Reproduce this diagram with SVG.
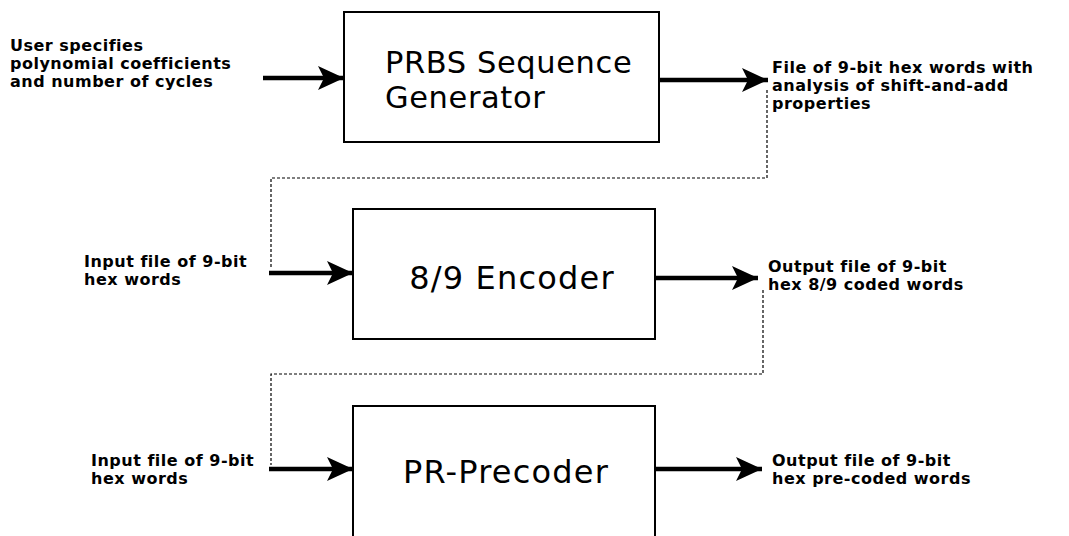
<svg xmlns="http://www.w3.org/2000/svg" width="1069" height="536" viewBox="0 0 1069 536">
<style>
.box{fill:#fff;stroke:#000;stroke-width:2}
.title{font-family:"DejaVu Sans",sans-serif;font-size:32px;letter-spacing:1.2px;fill:#000}
.title2{font-family:"DejaVu Sans",sans-serif;font-size:30.5px;letter-spacing:0.6px;fill:#000}
.lbl{font-family:"DejaVu Sans",sans-serif;font-size:16px;font-weight:bold;letter-spacing:0.5px;fill:#000}
.arr{stroke:#000;stroke-width:4.5;fill:none;marker-end:url(#ah)}
.dot{stroke:#000;stroke-width:1.2;fill:none;stroke-dasharray:3 2}
</style>
<defs>
<marker id="ah" markerUnits="userSpaceOnUse" markerWidth="28" markerHeight="26" refX="26" refY="13" orient="auto">
<path d="M0,1 L26,13 L0,25 L6,13 z" fill="#000"/>
</marker>
</defs>
<rect width="1069" height="536" fill="#fff"/>
<g id="connectors">
<line class="arr" x1="263" y1="78" x2="344" y2="78"/>
<line class="arr" x1="659" y1="80" x2="768" y2="80"/>
<line class="arr" x1="269" y1="273" x2="353" y2="273"/>
<line class="arr" x1="655" y1="278" x2="758" y2="278"/>
<line class="arr" x1="269" y1="469" x2="353" y2="469"/>
<line class="arr" x1="655" y1="469" x2="762" y2="469"/>
<polyline class="dot" points="767,90 767,178 271,178 271,268"/>
<polyline class="dot" points="763,290 763,374 271,374 271,465"/>
</g>
<g id="prbs">
<rect class="box" x="344" y="12" width="315" height="130"/>
<text class="title2" x="385" y="73">PRBS Sequence</text>
<text class="title2" x="385" y="108">Generator</text>
</g>
<g id="encoder">
<rect class="box" x="353" y="209" width="302" height="130"/>
<text class="title" x="512" y="289" text-anchor="middle">8/9 Encoder</text>
</g>
<g id="precoder">
<rect class="box" x="353" y="406" width="302" height="140"/>
<text class="title" x="506" y="483" text-anchor="middle">PR-Precoder</text>
</g>
<g id="in1">
<text class="lbl" x="10" y="51">User specifies</text>
<text class="lbl" x="10" y="69">polynomial coefficients</text>
<text class="lbl" x="10" y="87">and number of cycles</text>
</g>
<g id="out1">
<text class="lbl" x="772" y="73">File of 9-bit hex words with</text>
<text class="lbl" x="772" y="91">analysis of shift-and-add</text>
<text class="lbl" x="772" y="109">properties</text>
</g>
<g id="in2">
<text class="lbl" x="84" y="267">Input file of 9-bit</text>
<text class="lbl" x="84" y="285">hex words</text>
</g>
<g id="out2">
<text class="lbl" x="768" y="272">Output file of 9-bit</text>
<text class="lbl" x="768" y="290">hex 8/9 coded words</text>
</g>
<g id="in3">
<text class="lbl" x="91" y="466">Input file of 9-bit</text>
<text class="lbl" x="91" y="484">hex words</text>
</g>
<g id="out3">
<text class="lbl" x="772" y="466">Output file of 9-bit</text>
<text class="lbl" x="772" y="484">hex pre-coded words</text>
</g>
</svg>
